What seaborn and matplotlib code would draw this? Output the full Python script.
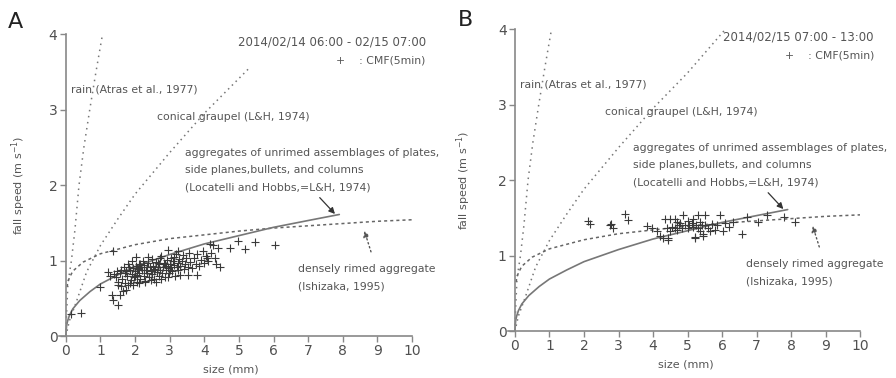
import matplotlib
matplotlib.use("Agg")
import matplotlib.pyplot as plt
import seaborn as sns

# reference curves
rain_size = [0, 0.02, 0.06, 0.16, 0.26, 0.38, 0.52, 0.69, 0.87, 1.06]
rain_speed = [0, 0.3, 0.7, 1.0, 1.4, 2.0, 2.5, 3.0, 3.5, 4.0]

graupel_size_a = [0, 0.1, 0.3, 0.6, 1.0, 1.5, 2.0, 3.0, 4.0, 5.3]
graupel_speed_a = [0, 0.2, 0.45, 0.85, 1.2, 1.55, 1.88, 2.43, 2.95, 3.55]
graupel_size_b = [0, 0.1, 0.3, 0.6, 1.0, 1.5, 2.0, 3.0, 4.0, 5.0, 6.1]
graupel_speed_b = [0, 0.2, 0.45, 0.85, 1.2, 1.55, 1.88, 2.43, 2.95, 3.42, 4.0]

unrimed_size = [0, 0.02, 0.05, 0.1, 0.2, 0.4, 0.7, 1.0, 1.5, 2.0, 3.0, 4.0, 5.0, 6.0, 7.0, 7.9]
unrimed_speed = [0, 0.14, 0.2, 0.27, 0.36, 0.47, 0.59, 0.69, 0.81, 0.92, 1.08, 1.22, 1.33, 1.44, 1.53, 1.61]

rimed_size = [0.03, 0.06, 0.1, 0.2, 0.5, 1, 2, 3, 4, 5, 6, 7, 8, 9, 10]
rimed_speed = [0.65, 0.72, 0.77, 0.86, 0.98, 1.09, 1.21, 1.29, 1.34, 1.39, 1.43, 1.46, 1.49, 1.52, 1.54]

# CMF 5 min values, panel A
size_a = [0.16, 0.45, 1.32, 1.56, 1.51, 1.37, 1.37, 0.98, 1.22, 1.27,
          4.16, 4.40, 4.74, 4.98, 5.17, 5.46, 6.04, 4.45, 3.29, 3.54, 3.78, 4.07, 4.26, 4.35,
          2.04, 2.38, 2.72, 2.96, 3.25, 1.75, 1.80,
          1.45, 1.50, 1.55, 1.60, 1.62, 1.68, 1.70, 1.72, 1.78, 1.80,
          1.85, 1.88, 1.90, 1.92, 1.95, 1.97, 2.00, 2.02, 2.05, 2.06,
          2.08, 2.10, 2.12, 2.15, 2.18, 2.20, 2.22, 2.25, 2.27, 2.30,
          2.32, 2.35, 2.38, 2.40, 2.42, 2.45, 2.48, 2.50, 2.52, 2.55,
          2.58, 2.60, 2.62, 2.65, 2.68, 2.70, 2.73, 2.75, 2.78, 2.80,
          2.83, 2.85, 2.88, 2.90, 2.93, 2.95, 2.98, 3.00, 3.03, 3.05,
          3.08, 3.10, 3.13, 3.15, 3.18, 3.20, 3.23, 3.25, 3.28, 3.30,
          3.35, 3.38, 3.40, 3.45, 3.48, 3.52, 3.55, 3.60, 3.65, 3.70,
          3.75, 3.80, 3.85, 3.90, 3.95, 4.00, 4.05, 4.10, 4.20, 4.30,
          1.58, 1.65, 1.85, 1.95, 2.10, 2.28, 2.45, 2.60, 2.75, 2.95,
          2.00, 2.05, 2.15, 2.25, 2.35, 2.55, 2.65, 2.85, 3.00, 3.12,
          1.40, 1.48, 1.52, 1.75, 1.83]
speed_a = [0.29, 0.30, 0.54, 0.54, 0.41, 0.48, 1.13, 0.65, 0.85, 0.79,
           1.22, 1.17, 1.17, 1.26, 1.15, 1.24, 1.20, 0.91, 0.81, 0.81, 0.81, 1.03, 1.20, 0.96,
           1.05, 1.05, 1.03, 1.14, 1.12, 0.61, 0.68,
           0.78, 0.72, 0.83, 0.88, 0.76, 0.92, 0.70, 0.84, 0.79, 0.95,
           0.88, 0.74, 0.82, 0.99, 0.90, 0.78, 0.86, 0.93, 0.72, 0.81,
           0.89, 0.96, 0.84, 0.76, 0.91, 0.87, 1.00, 0.80, 0.94, 0.73,
           0.88, 0.84, 0.97, 0.78, 0.91, 0.86, 1.02, 0.82, 0.93, 0.76,
           0.89, 0.98, 0.85, 0.92, 0.80, 0.95, 0.88, 1.06, 0.84, 0.91,
           0.97, 0.78, 0.93, 0.87, 1.01, 0.90, 0.83, 0.96, 0.92, 1.04,
           0.86, 0.99, 0.94, 0.80, 1.08, 0.91, 0.97, 0.87, 1.02, 0.93,
           0.99, 1.07, 0.89, 0.95, 1.03, 0.92, 1.10, 0.98, 0.90, 1.04,
           0.96, 1.08, 0.93, 1.01, 1.12, 0.97, 1.06, 0.99, 1.10, 1.04,
           0.66, 0.60, 0.70, 0.68, 0.70, 0.71, 0.74, 0.72, 0.75, 0.78,
           0.80, 0.90, 0.95, 0.88, 0.92, 0.87, 0.97, 0.95, 0.88, 1.05,
           0.82, 0.86, 0.68, 0.86, 0.92]

# CMF 5 min values, panel B
size_b = [2.12, 2.16, 2.75, 2.83, 2.79, 3.19, 3.28, 3.83, 3.96, 4.12,
          4.20, 4.30, 4.44, 4.43, 4.35, 4.49, 4.40, 4.64, 4.69, 4.63,
          4.78, 4.88, 4.93, 5.02, 5.12, 5.17, 5.25, 5.22, 5.21, 5.31,
          5.41, 5.36, 5.51, 5.51, 5.45, 5.94, 5.80, 6.04, 6.09, 6.33,
          6.57, 6.72, 7.05, 7.30, 7.78, 8.12, 5.46, 5.65, 4.55, 4.75,
          4.85, 5.05, 5.15, 5.30, 5.60, 5.70, 4.50, 4.70, 5.00, 5.35,
          6.20, 5.85]
speed_b = [1.46, 1.42, 1.40, 1.37, 1.42, 1.55, 1.47, 1.39, 1.36, 1.32,
           1.26, 1.23, 1.24, 1.21, 1.49, 1.49, 1.36, 1.36, 1.34, 1.49,
           1.43, 1.54, 1.40, 1.36, 1.43, 1.49, 1.40, 1.25, 1.23, 1.54,
           1.40, 1.45, 1.54, 1.40, 1.26, 1.54, 1.34, 1.32, 1.43, 1.45,
           1.29, 1.51, 1.45, 1.54, 1.51, 1.45, 1.29, 1.32, 1.38, 1.40,
           1.37, 1.41, 1.38, 1.36, 1.37, 1.42, 1.33, 1.44, 1.46, 1.33,
           1.38, 1.40]

sns.set_style("white")
plt.rcParams['font.family'] = ['DejaVu Sans']

txt = '#555555'
fig = plt.figure(figsize=(8.96, 3.78), dpi=100)
ax_a = fig.add_axes([0.0658, 0.111, 0.394, 0.799])
ax_b = fig.add_axes([0.567, 0.124, 0.393, 0.799])


def panel(ax, g_size, g_speed, x_size, x_speed, date, lx, lab_x):
    sns.lineplot(x=rain_size, y=rain_speed, ax=ax, sort=False, estimator=None,
                 color='#777777', lw=1.1, linestyle=(0, (1, 3)))
    sns.lineplot(x=g_size, y=g_speed, ax=ax, sort=False, estimator=None,
                 color='#777777', lw=1.1, linestyle=(0, (1, 2.5)))
    sns.lineplot(x=rimed_size, y=rimed_speed, ax=ax, sort=False, estimator=None,
                 color='#666666', lw=1.1, linestyle=(0, (2, 2)))
    sns.lineplot(x=unrimed_size, y=unrimed_speed, ax=ax, sort=False, estimator=None,
                 color='#777777', lw=1.2)
    sns.scatterplot(x=x_size, y=x_speed, ax=ax, marker='+', color='#3a3a3a',
                    s=30, linewidth=0.8, zorder=3)

    ax.set_xlim(-0.2, 10)
    ax.set_ylim(0, 4)
    ax.set_xticks(range(0, 11))
    ax.set_yticks(range(0, 5))
    sns.despine(ax=ax)
    ax.spines['left'].set_position(('data', 0))
    for s in ['left', 'bottom']:
        ax.spines[s].set_color('#888888')
        ax.spines[s].set_linewidth(1.2)
    ax.tick_params(direction='out', length=4, width=1, color='#888888',
                   labelsize=10, labelcolor='#505050', left=True, bottom=True, pad=2)
    ax.set_xlabel('size (mm)', fontsize=8, color=txt)
    ax.set_ylabel('fall speed (m s$^{-1}$)', fontsize=8, color=txt)
    ax.xaxis.set_label_coords(lab_x, -0.095)
    ax.yaxis.set_label_coords(lx, 0.5)

    fs = 7.8
    ax.text(10.4, 3.9, date, ha='right', va='center', fontsize=8.5, color=txt, clip_on=False)
    ax.text(10.4, 3.65, '+    : CMF(5min)', ha='right', va='center', fontsize=7.8, color=txt,
            clip_on=False)
    ax.text(0.16, 3.27, 'rain (Atras et al., 1977)', fontsize=fs, color=txt, va='center')
    ax.text(2.62, 2.9, 'conical graupel (L&H, 1974)', fontsize=fs, color=txt, va='center')
    ax.text(3.43, 2.42, 'aggregates of unrimed assemblages of plates,', fontsize=fs,
            color=txt, va='center', clip_on=False)
    ax.text(3.43, 2.2, 'side planes,bullets, and columns', fontsize=fs, color=txt, va='center')
    ax.text(3.43, 1.97, '(Locatelli and Hobbs,=L&H, 1974)', fontsize=fs, color=txt, va='center')
    ax.text(6.7, 0.89, 'densely rimed aggregate', fontsize=fs, color=txt, va='center',
            clip_on=False)
    ax.text(6.7, 0.66, '(Ishizaka, 1995)', fontsize=fs, color=txt, va='center')
    ax.annotate('', xy=(7.83, 1.59), xytext=(7.28, 1.86),
                arrowprops=dict(arrowstyle='-|>', color='#333333', lw=0.9, mutation_scale=9))
    ax.annotate('', xy=(8.6, 1.43), xytext=(8.84, 1.08),
                arrowprops=dict(arrowstyle='-|>', color='#555555', lw=1.0,
                                linestyle=(0, (1, 2)), mutation_scale=9))


panel(ax_a, graupel_size_a, graupel_speed_a, size_a, speed_a,
      '2014/02/14 06:00 - 02/15 07:00', -0.088, 0.487)
panel(ax_b, graupel_size_b, graupel_speed_b, size_b, speed_b,
      '2014/02/15 07:00 - 13:00', -0.10, 0.505)

fig.text(8 / 896, 1 - 22 / 378, 'A', fontsize=16, color='#222222', va='center')
fig.text(458 / 896, 1 - 20 / 378, 'B', fontsize=16, color='#222222', va='center')

fig.savefig('out.png', dpi=100)
